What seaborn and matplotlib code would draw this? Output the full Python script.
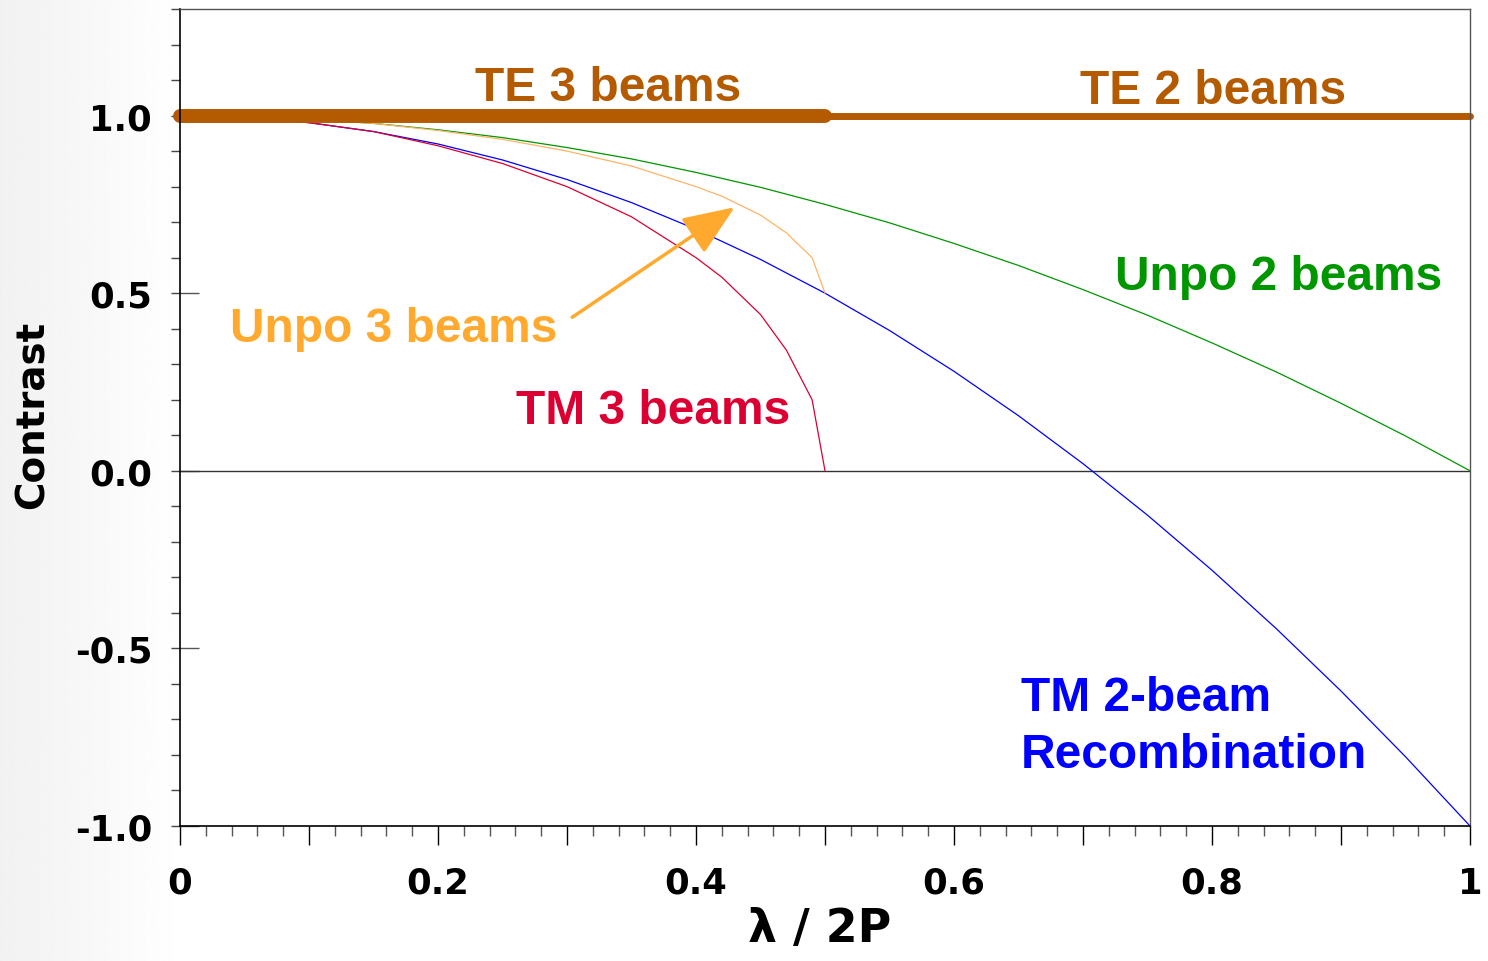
import numpy as np
import matplotlib
matplotlib.use("Agg")
import matplotlib.pyplot as plt
from matplotlib.ticker import MultipleLocator, FuncFormatter
import seaborn as sns

# ---- data ----
x_2beam = [0.0, 0.05, 0.10, 0.15, 0.20, 0.25, 0.30, 0.35, 0.40, 0.45, 0.50,
           0.55, 0.60, 0.65, 0.70, 0.75, 0.80, 0.85, 0.90, 0.95, 1.0]
tm_2beam = [1.0, 0.995, 0.98, 0.955, 0.92, 0.875, 0.82, 0.755, 0.68, 0.595, 0.50,
            0.395, 0.28, 0.155, 0.02, -0.125, -0.28, -0.445, -0.62, -0.805, -1.0]
unpo_2beam = [1.0, 0.998, 0.99, 0.978, 0.96, 0.938, 0.91, 0.878, 0.84, 0.798, 0.75,
              0.698, 0.64, 0.578, 0.51, 0.438, 0.36, 0.278, 0.19, 0.098, 0.0]

x_3beam = [0.0, 0.05, 0.10, 0.15, 0.20, 0.25, 0.30, 0.35, 0.40, 0.42, 0.45, 0.47, 0.49, 0.50]
tm_3beam = [1.0, 0.995, 0.98, 0.955, 0.915, 0.865, 0.80, 0.715, 0.60, 0.545, 0.44, 0.34, 0.20, 0.0]
unpo_3beam = [1.0, 0.998, 0.99, 0.978, 0.958, 0.933, 0.90, 0.858, 0.80, 0.773, 0.72, 0.67, 0.60, 0.50]

x_te3 = [0.0, 0.5]
te_3beam = [1.0, 1.0]
x_te2 = [0.0, 1.0]
te_2beam = [1.0, 1.0]

x_ticklabels = ["0", "0.2", "0.4", "0.6", "0.8", "1"]

# ---- colours ----
BROWN = "#B45A00"
GREEN = "#009600"
ORANGE_TXT = "#FFAA2E"
ORANGE_LN = "#FFB366"
RED = "#DC0032"
BLUE = "#0000FF"

sns.set_style("white")
plt.rcParams["font.family"] = ["DejaVu Sans"]
plt.rcParams["text.color"] = "black"
plt.rcParams["axes.labelcolor"] = "black"
plt.rcParams["xtick.color"] = "black"
plt.rcParams["ytick.color"] = "black"

fig = plt.figure(figsize=(14.88, 9.62), dpi=100)
fig.patch.set_facecolor("white")

# faint grey band on the left edge (background texture of the slide)
bg = fig.add_axes([0, 0, 185 / 1488, 1], zorder=-10)
grad = np.linspace(0.945, 1.0, 256)[None, :]
bg.imshow(np.repeat(grad, 2, axis=0), cmap="gray", vmin=0, vmax=1, aspect="auto",
          extent=[0, 1, 0, 1])
bg.axis("off")

ax = fig.add_axes([180 / 1488, 1 - 827 / 962, 1290 / 1488, 817 / 962])
ax.set_facecolor("white")

# thin curves
sns.lineplot(x=x_2beam, y=unpo_2beam, ax=ax, color=GREEN, lw=0.9, estimator=None, sort=False)
sns.lineplot(x=x_2beam, y=tm_2beam, ax=ax, color=BLUE, lw=0.9, estimator=None, sort=False)
sns.lineplot(x=x_3beam, y=unpo_3beam, ax=ax, color=ORANGE_LN, lw=0.9, estimator=None, sort=False)
sns.lineplot(x=x_3beam, y=tm_3beam, ax=ax, color=RED, lw=0.9, estimator=None, sort=False)

# TE lines (thick, round caps)
sns.lineplot(x=x_te2, y=te_2beam, ax=ax, color=BROWN, lw=5, estimator=None, sort=False)
ax.lines[-1].set_solid_capstyle("round")
ax.lines[-1].set_clip_on(False)
sns.lineplot(x=x_te3, y=te_3beam, ax=ax, color=BROWN, lw=10, estimator=None, sort=False)
ax.lines[-1].set_solid_capstyle("round")
ax.lines[-1].set_clip_on(False)

# zero line
ax.axhline(0, color="#333333", lw=1.0, zorder=1)

ax.set_xlim(0, 1)
ax.set_ylim(-1.0, 1.3)

# ticks
ax.xaxis.set_major_locator(MultipleLocator(0.1))
ax.xaxis.set_minor_locator(MultipleLocator(0.02))

def xfmt(v, pos):
    k = int(round(v * 10))
    if k % 2 == 0:
        return x_ticklabels[k // 2]
    return ""

ax.xaxis.set_major_formatter(FuncFormatter(xfmt))
ax.yaxis.set_major_locator(MultipleLocator(0.5))
ax.yaxis.set_minor_locator(MultipleLocator(0.1))
ax.yaxis.remove_overlapping_locs = False
ax.yaxis.set_major_formatter(FuncFormatter(lambda v, p: f"{v:.1f}"))

ax.tick_params(which="both", bottom=True, left=True, top=False, right=False)
ax.tick_params(axis="x", which="major", direction="out", length=13.5, width=1.0,
               color="black", pad=15, labelsize=25.5, labelcolor="black")
ax.tick_params(axis="x", which="minor", direction="out", length=7, width=1.0, color="#555555")
ax.tick_params(axis="y", which="major", direction="in", length=14, width=1.0,
               color="#555555", pad=20, labelsize=25.5, labelcolor="black")
ax.tick_params(axis="y", which="minor", direction="out", length=6.5, width=1.0, color="#444444")
for lab in ax.get_xticklabels() + ax.get_yticklabels():
    lab.set_fontweight("bold")

for s in ["left", "bottom"]:
    ax.spines[s].set_color("black")
    ax.spines[s].set_linewidth(1.2)
for s in ["top", "right"]:
    ax.spines[s].set_color("#555555")
    ax.spines[s].set_linewidth(1.0)

# axis labels
ax.set_xlabel("λ / 2P", fontsize=33, fontweight="bold", va="top", color="black")
ax.xaxis.set_label_coords(0.496, -0.098)
ax.set_ylabel("Contrast", fontsize=28, fontweight="bold", va="center", color="black")
ax.yaxis.set_label_coords(-0.114, 0.504)

# annotations
lab_font = dict(family=["Liberation Sans", "DejaVu Sans"], fontweight="bold", fontsize=34.5)
ax.text(0.2287, 1.044, "TE 3 beams", color=BROWN, ha="left", va="baseline", **lab_font)
ax.text(0.6977, 1.034, "TE 2 beams", color=BROWN, ha="left", va="baseline", **lab_font)
ax.text(0.7248, 0.513, "Unpo 2 beams", color=GREEN, ha="left", va="baseline", **lab_font)
ax.text(0.0388, 0.365, "Unpo 3 beams", color=ORANGE_TXT, ha="left", va="baseline", **lab_font)
ax.text(0.2605, 0.135, "TM 3 beams", color=RED, ha="left", va="baseline", **lab_font)
ax.text(0.652, -0.674, "TM 2-beam", color=BLUE, ha="left", va="baseline", **lab_font)
ax.text(0.652, -0.835, "Recombination", color=BLUE, ha="left", va="baseline", **lab_font)

ax.annotate("", xy=(0.430, 0.742), xytext=(0.304, 0.432),
            arrowprops=dict(arrowstyle="-|>,head_length=1.6,head_width=0.65",
                            mutation_scale=20, lw=2.5, color=ORANGE_TXT,
                            shrinkA=0, shrinkB=0))

fig.savefig("out.png", dpi=100, facecolor="white")
